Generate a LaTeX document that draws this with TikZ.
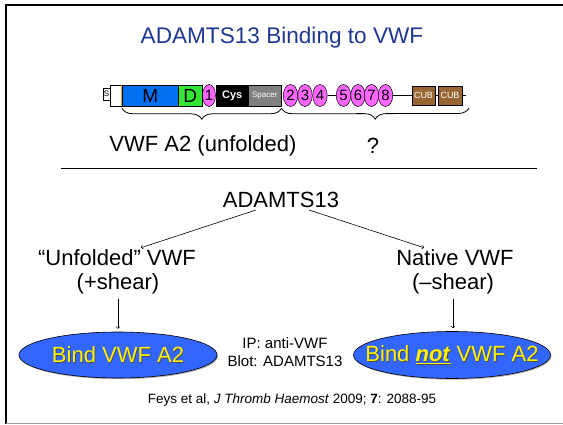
\documentclass[tikz,border=0pt]{standalone}
\usepackage{fontspec}
\setmainfont{Liberation Sans}
\usetikzlibrary{shapes.geometric,decorations.pathreplacing,shadows,positioning}

\definecolor{titleblue}{RGB}{31,56,145}
\definecolor{bindblue}{RGB}{51,102,255}
\definecolor{mblue}{RGB}{0,112,240}
\definecolor{dgreen}{RGB}{51,230,51}
\definecolor{tsppink}{RGB}{255,102,255}
\definecolor{cubbrown}{RGB}{153,102,51}
\definecolor{sigorange}{RGB}{255,153,51}

% yellow text with a dark offset copy behind it, zero width so the ellipse keeps its size
\newcommand{\shadowtxt}[1]{\makebox[0pt]{\makebox[0pt][l]{\hspace{0.9pt}\raisebox{-0.9pt}{\color{black!70}#1}}#1}}

\tikzset{
    dom/.style={draw=black, line width=0.5pt, minimum height=21pt, inner sep=0pt},
    tsp/.style={ellipse, draw=black, line width=0.5pt, fill=tsppink, minimum width=14.5pt,
        minimum height=22pt, inner sep=0pt, font=\fontsize{15}{15}\selectfont},
    cub/.style={dom, fill=cubbrown, minimum width=23.5pt, minimum height=19pt, text=white,
        font=\fontsize{9}{9}\selectfont},
    body/.style={font=\fontsize{22}{26}\selectfont, inner sep=2pt},
    bind/.style={ellipse, draw=black, line width=0.6pt, fill=bindblue, minimum width=198pt,
        minimum height=45pt, inner sep=0pt, text=yellow, font=\fontsize{22}{26}\selectfont,
        drop shadow={shadow xshift=1pt, shadow yshift=-1.2pt, opacity=0.6}},
    link/.style={->, line width=0.6pt}
}

\begin{document}
\begin{tikzpicture}[x=1pt, y=1pt]
    \useasboundingbox (0,0) rectangle (563,424);
    % slide frame
    \draw[line width=2pt] (6,0) -- (6,419) -- (563,419);
    \draw[black!40, line width=1pt] (6,0.8) -- (563,0.8);

    \node[text=titleblue, font=\fontsize{22.6}{26}\selectfont] (title) at (282,386) {ADAMTS13 Binding to VWF};

    % domain structure of ADAMTS13
    \coordinate (barend) at (466,328.5);
    \node[dom, fill=white, minimum width=7pt, minimum height=12pt, font=\fontsize{8}{8}\selectfont] (sig) at (106.5,330) {S};
    \node[dom, fill=white, minimum width=12pt, anchor=west] (pro) at (110,328.5) {};
    \node[dom, fill=mblue, minimum width=56pt, anchor=west, font=\fontsize{19}{19}\selectfont] (m) at (122,328.5) {M};
    \draw[sigorange, line width=1.5pt] ([xshift=-0.8pt,yshift=-0.5pt]pro.north east) -- ([xshift=-0.8pt,yshift=0.5pt]pro.south east);
    \node[dom, fill=dgreen, minimum width=24pt, anchor=west, font=\fontsize{19}{19}\selectfont] (d) at (178,328.5) {D};
    \node[tsp, minimum width=13pt] (t1) at (209,328.5) {1};
    \node[dom, fill=black, minimum width=32pt, anchor=west, text=white, font=\bfseries\fontsize{11}{11}\selectfont] (cys) at (216,328.5) {Cys};
    \node[dom, fill=gray, minimum width=33pt, anchor=west, text=white, font=\fontsize{8}{8}\selectfont] (spacer) at (248,328.5) {Spacer};
    % thrombospondin repeats
    \foreach \x/\n in {290.5/2, 305/3, 320/4, 343.5/5, 358/6, 371.5/7, 385.5/8}
        \node[tsp] (t\n) at (\x,328.5) {\n};
    \node[cub, anchor=west] (cuba) at (411.5,328.5) {CUB};
    \node[cub, anchor=west] (cubb) at (438,328.5) {CUB};
    \draw[line width=0.8pt] (t4) -- (t5);
    \draw[line width=0.8pt] (t8) -- (cuba);
    \draw[line width=0.8pt] (cuba) -- (cubb);
    \draw[line width=0.8pt] (cubb) -- (barend);

    % braces under the domains
    \draw[line width=0.8pt, decorate, decoration={brace, mirror, amplitude=11pt}]
        ([yshift=-2pt]m.south west) -- ([yshift=-2pt]spacer.south east);
    \draw[line width=0.8pt, decorate, decoration={brace, mirror, amplitude=11pt}]
        ([yshift=-2pt]spacer.south east) -- ([xshift=3pt,yshift=-12.5pt]barend);
    \node[body] (a2lbl) at (203,278) {VWF A2 (unfolded)};
    \node[body] (qlbl) at (373,278) {?};

    \draw[line width=0.7pt] (61,256) -- (537,256);

    % assay scheme
    \node[body] (adam) at (281,224) {ADAMTS13};
    \node[body] (unf) at (117,166) {“Unfolded” VWF};
    \node[body] (pshear) at (118,140) {(+shear)};
    \node[body] (nat) at (455,166) {Native VWF};
    \node[body] (mshear) at (453,140) {(–shear)};
    \draw[link] ([xshift=-25pt]adam.south) -- ([xshift=24pt]unf.north);
    \draw[link] ([xshift=28pt]adam.south) -- ([xshift=-31pt]nat.north);

    \node[bind, minimum height=46pt] (bindl) at (118,69) {\shadowtxt{Bind VWF A2}};
    \node[bind, minimum width=197pt, minimum height=47pt] (bindr) at (452,69)
        {\shadowtxt{Bind \underline{\textbf{\textit{not}}} VWF A2}};
    \draw[link, shorten <=3pt, shorten >=3pt] (pshear) -- (pshear |- bindl.north);
    \draw[link, shorten <=3pt, shorten >=3pt] (mshear) -- (mshear |- bindr.north);

    \node[align=center, font=\fontsize{15}{18}\selectfont] (blot) at (285,72) {IP: anti-VWF\\Blot: ADAMTS13};

    \node[font=\fontsize{13.5}{16}\selectfont] (ref) at (292,24)
        {Feys et al, \textit{J Thromb Haemost} 2009; \textbf{7}: 2088-95};
\end{tikzpicture}
\end{document}
